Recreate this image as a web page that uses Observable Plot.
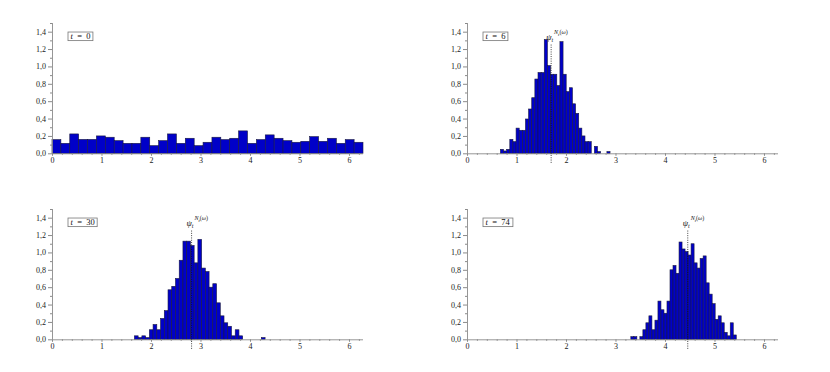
<!DOCTYPE html>
<html><head><meta charset="utf-8">
<script src="https://cdn.jsdelivr.net/npm/d3@7"></script>
<script src="https://cdn.jsdelivr.net/npm/@observablehq/plot@0.6"></script>
<style>
body{margin:0;background:#fff;}
#wrap{position:relative;width:830px;height:372px;overflow:hidden;}
.panel{position:absolute;}
</style></head><body><div id="wrap"></div>
<script>
// ---- data ----
const timeLabels = ["t = 0", "t = 6", "t = 30", "t = 74"];
const binStarts = [0, 0.675, 1.665, 3.31];
const binEnds = [2 * Math.PI, 2.89, 4.305, 5.44];
const means = [null, 1.69, 2.81, 4.45];
const h0 = [0.158,0.115,0.223,0.16,0.16,0.2,0.185,0.146,0.115,0.115,0.185,0.088,0.146,0.223,0.115,0.173,0.088,0.127,0.185,0.158,0.173,0.258,0.115,0.158,0.212,0.173,0.146,0.127,0.138,0.192,0.138,0.173,0.115,0.158,0.127];
const h6 = [0.046,0.027,0.046,0.16,0.134,0.29,0.265,0.265,0.395,0.51,0.64,0.855,0.93,0.93,1.31,1.01,0.91,0.91,0.78,1.285,0.91,0.71,0.755,0.57,0.46,0.29,0.2,0.134,0.134,0,0.08,0.02,0,0,0.02];
const h30 = [0.04,0.02,0.04,0.02,0.11,0.17,0.11,0.24,0.33,0.57,0.61,0.70,0.91,1.13,1.13,1.08,0.88,1.15,0.82,0.78,0.60,0.64,0.42,0.27,0.19,0.15,0.04,0.11,0.04,0,0,0,0,0,0.02];
const h74 = [0.03,0.03,0,0.03,0.11,0.19,0.27,0.11,0.22,0.44,0.34,0.30,0.44,0.80,0.85,0.76,1.12,1.04,1.01,0.97,1.10,0.88,0.82,0.93,0.96,0.65,0.52,0.41,0.23,0.27,0.19,0.08,0.04,0.19,0.05];
const series = [h0, h6, h30, h74];
const yTicks = [0, 0.2, 0.4, 0.6, 0.8, 1.0, 1.2, 1.4];
const yMinor = [0.1, 0.3, 0.5, 0.7, 0.9, 1.1, 1.3, 1.5];
const xTicks = [0, 1, 2, 3, 4, 5, 6];
const xMinor = [0.2,0.4,0.6,0.8,1.2,1.4,1.6,1.8,2.2,2.4,2.6,2.8,3.2,3.4,3.6,3.8,4.2,4.4,4.6,4.8,5.2,5.4,5.6,5.8,6.2];
const xDomain = [0, 2 * Math.PI];
const yDomain = [0, 1.5];
const meanLine = [-0.11, 1.26];
const psiY = 1.315;

const FONT = "Liberation Serif, DejaVu Serif, serif";
const wrap = document.getElementById("wrap");
const offsets = [[0, 0], [415, 0], [0, 186], [415, 186]];

function panel(k) {
  const heights = series[k];
  const n = heights.length;
  const w = (binEnds[k] - binStarts[k]) / n;
  const bins = heights.map((v, i) => ({x1: binStarts[k] + i * w, x2: binStarts[k] + (i + 1) * w, y: v}))
    .filter(d => d.y > 0);
  const marks = [
    Plot.rectY(bins, {x1: "x1", x2: "x2", y: "y", fill: "#0000c8", stroke: "#1a1a40", strokeWidth: 0.6}),
    Plot.ruleY([0], {stroke: "#8a8a8a", strokeWidth: 0.9}),
    Plot.ruleX([0], {stroke: "#8a8a8a", strokeWidth: 0.9}),
    Plot.axisY(yTicks, {tickSize: 4, tickPadding: 2.5, stroke: "#8a8a8a", fill: "#222", fontSize: 8,
      tickFormat: d => d.toFixed(1).replace(".", ",")}),
    Plot.axisY(yMinor, {tickSize: 2, stroke: "#8a8a8a", tickFormat: () => ""}),
    Plot.axisX(xTicks, {tickSize: 2.5, tickPadding: 1.5, stroke: "#8a8a8a", fill: "#222", fontSize: 8,
      tickFormat: d => String(d)}),
    Plot.axisX(xMinor, {tickSize: 1.5, stroke: "#8a8a8a", tickFormat: () => ""}),
    Plot.text([timeLabels[k]], {frameAnchor: "top-left", dx: 18, dy: 13, textAnchor: "start",
      lineAnchor: "middle", fontSize: 8.5, fill: "#111"})
  ];
  if (means[k] != null) {
    marks.push(Plot.ruleX([means[k]], {x: d => d, y1: meanLine[0], y2: meanLine[1], stroke: "#111",
      strokeWidth: 0.8, strokeDasharray: "1,1.3"}));
    marks.push(Plot.text([means[k]], {x: d => d, y: psiY, text: () => "ψ", textAnchor: "start",
      lineAnchor: "bottom", dx: -5, fontSize: 8.5, fill: "#111"}));
  }
  const svg = Plot.plot({
    width: 415, height: 186,
    marginLeft: 52, marginRight: 52, marginTop: 23, marginBottom: 32.7,
    x: {domain: xDomain, label: null},
    y: {domain: yDomain, label: null},
    style: {fontFamily: FONT, fontSize: "8px", background: "transparent", overflow: "visible"},
    marks
  });
  const div = document.createElement("div");
  div.className = "panel";
  div.style.left = offsets[k][0] + "px";
  div.style.top = offsets[k][1] + "px";
  div.appendChild(svg);
  wrap.appendChild(div);

  const NS = "http://www.w3.org/2000/svg";
  const ts = (parent, txt, attrs) => {
    const t = document.createElementNS(NS, "tspan");
    for (const a in attrs) t.setAttribute(a, attrs[a]);
    t.textContent = txt;
    parent.appendChild(t);
    return t;
  };
  svg.querySelectorAll("text").forEach(el => {
    const s = el.textContent;
    if (s === timeLabels[k]) {
      const rest = s.slice(1).replace(/ /g, "\u2002");
      el.textContent = "";
      ts(el, "t", {"font-style": "italic"});
      ts(el, rest, {});
      const bb = el.getBBox();
      const r = document.createElementNS(NS, "rect");
      r.setAttribute("x", bb.x - 2.5);
      r.setAttribute("y", bb.y + 0.8);
      r.setAttribute("width", bb.width + 5);
      r.setAttribute("height", bb.height - 1.4);
      r.setAttribute("fill", "#fff");
      r.setAttribute("stroke", "#777");
      r.setAttribute("stroke-width", "0.8");
      const tr = el.getAttribute("transform");
      if (tr) r.setAttribute("transform", tr);
      el.parentNode.insertBefore(r, el);
    } else if (s === "ψ") {
      el.textContent = "";
      ts(el, "ψ", {"font-style": "italic"});
      ts(el, "t", {"font-style": "italic", "font-size": "6", dy: "2.2"});
      ts(el, "N", {"font-style": "italic", "font-size": "6", dx: "1", dy: "-7.4"});
      ts(el, "t", {"font-style": "italic", "font-size": "4.5", dy: "1.2"});
      ts(el, "(", {"font-size": "6", dy: "-1.2"});
      ts(el, "ω", {"font-style": "italic", "font-size": "6"});
      ts(el, ")", {"font-size": "6"});
    }
  });
}
for (let k = 0; k < 4; k++) panel(k);
</script></body></html>
